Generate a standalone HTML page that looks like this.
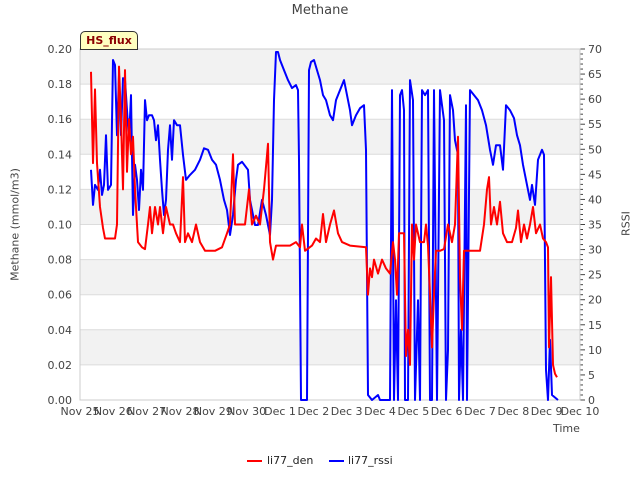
<!DOCTYPE html>
<html><head><meta charset="utf-8"><style>
body{margin:0;background:#fff}
svg text{font-family:"DejaVu Sans","Liberation Sans",sans-serif}
</style></head><body>
<svg id="c" width="640" height="480" xmlns="http://www.w3.org/2000/svg"></svg>
<script>
const xTickLabels=["Nov 25","Nov 26","Nov 27","Nov 28","Nov 29","Nov 30","Dec 1","Dec 2","Dec 3","Dec 4","Dec 5","Dec 6","Dec 7","Dec 8","Dec 9","Dec 10"];
const yLeftTicks=[0,0.02,0.04,0.06,0.08,0.10,0.12,0.14,0.16,0.18,0.20];
const yRightTicks=[0,5,10,15,20,25,30,35,40,45,50,55,60,65,70];
const denTime=[0.33,0.39,0.45,0.51,0.6,0.69,0.75,1.05,1.11,1.17,1.23,1.29,1.35,1.41,1.47,1.53,1.59,1.65,1.74,1.86,1.95,2.04,2.1,2.16,2.25,2.34,2.4,2.49,2.58,2.7,2.79,2.88,3.0,3.09,3.15,3.24,3.36,3.48,3.6,3.75,4.05,4.26,4.41,4.5,4.59,4.65,4.8,4.95,5.07,5.16,5.28,5.4,5.52,5.64,5.7,5.79,5.88,6.3,6.48,6.6,6.66,6.75,6.96,7.08,7.2,7.29,7.38,7.5,7.62,7.74,7.86,8.1,8.58,8.64,8.7,8.76,8.82,8.94,9.06,9.18,9.3,9.39,9.45,9.51,9.57,9.72,9.78,9.84,9.9,9.96,10.02,10.08,10.2,10.32,10.38,10.44,10.5,10.56,10.62,10.68,10.8,10.92,11.04,11.16,11.25,11.34,11.4,11.46,11.52,11.64,12.0,12.12,12.21,12.27,12.33,12.42,12.51,12.6,12.69,12.81,12.96,13.08,13.14,13.23,13.32,13.41,13.5,13.59,13.68,13.8,13.89,13.98,14.04,14.07,14.13,14.19,14.25,14.31];
const denVal=[0.187,0.135,0.177,0.135,0.11,0.098,0.092,0.092,0.1,0.19,0.16,0.12,0.188,0.13,0.16,0.14,0.15,0.12,0.09,0.087,0.086,0.1,0.11,0.095,0.11,0.10,0.11,0.095,0.11,0.1,0.1,0.095,0.09,0.127,0.09,0.095,0.09,0.1,0.09,0.085,0.085,0.087,0.095,0.1,0.14,0.1,0.1,0.1,0.12,0.1,0.105,0.1,0.12,0.146,0.09,0.08,0.088,0.088,0.09,0.087,0.1,0.085,0.088,0.092,0.09,0.106,0.09,0.1,0.108,0.095,0.09,0.088,0.087,0.06,0.075,0.07,0.08,0.072,0.08,0.075,0.072,0.09,0.08,0.06,0.095,0.095,0.025,0.04,0.02,0.1,0.08,0.1,0.09,0.09,0.1,0.088,0.06,0.03,0.06,0.085,0.085,0.086,0.1,0.09,0.1,0.15,0.07,0.04,0.085,0.085,0.085,0.1,0.12,0.127,0.1,0.11,0.1,0.113,0.095,0.09,0.09,0.098,0.108,0.09,0.1,0.092,0.1,0.11,0.095,0.1,0.092,0.09,0.087,0.03,0.07,0.02,0.015,0.013];
const rssiTime=[0.33,0.39,0.45,0.54,0.6,0.66,0.72,0.78,0.84,0.93,0.99,1.05,1.11,1.17,1.23,1.29,1.35,1.41,1.47,1.53,1.59,1.65,1.71,1.77,1.83,1.89,1.95,2.01,2.07,2.16,2.22,2.28,2.34,2.4,2.46,2.52,2.58,2.64,2.7,2.76,2.82,2.91,3.0,3.09,3.18,3.3,3.45,3.6,3.72,3.84,3.96,4.08,4.2,4.32,4.41,4.5,4.59,4.68,4.74,4.86,5.04,5.1,5.16,5.25,5.34,5.46,5.58,5.7,5.76,5.82,5.88,5.94,6.0,6.12,6.24,6.36,6.48,6.54,6.57,6.63,6.81,6.87,6.93,7.02,7.11,7.2,7.29,7.38,7.5,7.59,7.68,7.8,7.92,7.98,8.1,8.16,8.28,8.4,8.52,8.58,8.64,8.76,8.94,9.0,9.3,9.36,9.42,9.48,9.54,9.6,9.66,9.72,9.75,9.84,9.9,9.99,10.05,10.14,10.2,10.26,10.35,10.44,10.5,10.56,10.62,10.71,10.8,10.92,10.98,11.04,11.1,11.19,11.25,11.34,11.37,11.43,11.49,11.58,11.61,11.7,11.82,11.94,12.06,12.18,12.3,12.39,12.48,12.6,12.69,12.78,12.9,13.02,13.11,13.2,13.29,13.41,13.5,13.56,13.65,13.74,13.86,13.92,13.98,14.04,14.1,14.16,14.34];
const rssiVal=[45.9,38.9,42.9,41.9,45.9,40.9,42.9,52.8,41.9,42.9,67.8,66.8,52.8,64.8,52.8,64.2,63.8,57.8,51.8,60.8,36.9,46.9,43.9,37.9,45.9,41.9,59.8,55.8,56.8,56.8,55.8,51.8,54.8,47.9,41.9,36.9,39.9,49.9,54.8,47.9,55.8,54.8,54.8,48.9,43.9,44.9,45.9,47.9,50.2,49.9,47.9,46.9,43.9,39.9,37.9,32.9,36.9,43.9,46.9,47.5,45.9,39.9,37.9,34.9,34.9,39.9,36.9,32.9,39.9,59.8,69.4,69.4,67.8,65.8,63.8,62.2,62.8,61.8,47.9,0,0,65.8,67.4,67.8,65.8,63.8,60.8,59.8,56.8,55.8,59.8,61.8,63.8,61.8,57.8,54.8,56.8,58.2,58.8,49.9,1,0,1,0,0,61.8,0,19.9,0,60.8,61.8,57.8,0,0,63.8,59.8,0,19.9,0,61.8,60.8,61.8,0,0,61.8,0,61.8,55.8,0,10,60.8,57.8,51.8,48.9,0,14,0,58.8,0,61.8,60.8,59.8,57.8,54.8,49.9,46.9,50.8,50.8,45.9,58.8,57.8,56.2,52.8,50.8,46.9,42.9,39.9,42.9,38.9,47.9,49.9,48.9,6,0,12,1,0];

const NS="http://www.w3.org/2000/svg";
const svg=document.getElementById('c');
const L=80,R=580,T=49,B=400;
const xs=d=>L+(R-L)*d/15;
const yl=v=>B-(B-T)*v/0.2;
const yr=v=>B-(B-T)*v/70;
function mk(tag,attrs,parent){const e=document.createElementNS(NS,tag);for(const k in attrs)e.setAttribute(k,attrs[k]);(parent||svg).appendChild(e);return e;}

for(let i=0;i<10;i++){
  if(i%2===1){const r=mk('rect',{x:L,y:yl(yLeftTicks[i+1]),width:R-L,height:yl(yLeftTicks[i])-yl(yLeftTicks[i+1]),fill:'#f2f2f2'});
  
  }
}
yLeftTicks.forEach(v=>{
  const g=mk('line',{x1:L,x2:R,y1:yl(v),y2:yl(v),stroke:'#dcdcdc','stroke-width':1});
  
  
  const t=mk('text',{x:72,y:yl(v)+4,'text-anchor':'end','font-size':11,fill:'#444'});
  t.textContent=v.toFixed(2);
  
  
});
for(let v=0;v<=70;v++){
  const tk=mk('line',{x1:R,x2:R+(v%5===0?5:3),y1:yr(v),y2:yr(v),stroke:'#444','stroke-width':1});
  
  
}
yRightTicks.forEach(v=>{
  const t=mk('text',{x:588,y:yr(v)+4,'font-size':11,fill:'#444'});
  t.textContent=v;
  
  
});
xTickLabels.forEach((s,i)=>{
  const t=mk('text',{x:xs(i),y:415,'text-anchor':'middle','font-size':11,fill:'#444'});
  t.textContent=s;
  
  
});
const sp=mk('rect',{x:L,y:T,width:R-L,height:B-T,fill:'none',stroke:'#ccc','stroke-width':1});



function series(tArr,vArr,ys,color,name){
  const n=Math.min(tArr.length,vArr.length);let d='';
  for(let i=0;i<n;i++)d+=(i?'L':'M')+xs(tArr[i]).toFixed(1)+' '+ys(vArr[i]).toFixed(1);
  const p=mk('path',{d:d,fill:'none',stroke:color,'stroke-width':2,'stroke-linejoin':'round'});
  
  
}
series(rssiTime,rssiVal,yr,'#0000ff','li77-rssi-line');
series(denTime,denVal,yl,'#ff0000','li77-den-line');
</script>
<div style="position:absolute;left:0;top:0;width:640px;height:480px;pointer-events:none;font-family:'DejaVu Sans','Liberation Sans',sans-serif">
<div style="position:absolute;top:3px;left:0;width:640px;text-align:center;font-size:13px;color:#444">Methane</div>
<div style="position:absolute;left:-65px;top:218px;width:160px;text-align:center;white-space:nowrap;font-size:11px;color:#444;transform:rotate(-90deg)">Methane (mmol/m3)</div>
<div style="position:absolute;left:606px;top:217px;width:40px;text-align:center;font-size:11px;color:#444;transform:rotate(-90deg)">RSSI</div>
<div style="position:absolute;left:553px;top:422px;font-size:11px;color:#444">Time</div>
<div style="position:absolute;left:80px;top:31px;width:56px;height:17px;background:#ffffc0;border:1px solid #333;border-radius:5px 5px 0 0;font-size:11px;font-weight:bold;color:#8b0000;text-align:center;line-height:17px">HS_flux</div>
<div style="position:absolute;top:454px;left:0;width:640px;font-size:11px;color:#222">
 <div style="position:absolute;left:247px;"><span style="display:inline-block;width:15px;height:2px;background:#f00;vertical-align:middle;margin-right:5px"></span>li77_den</div>
 <div style="position:absolute;left:329px;"><span style="display:inline-block;width:15px;height:2px;background:#00f;vertical-align:middle;margin-right:4px"></span>li77_rssi</div>
</div>
</div>
</body></html>
